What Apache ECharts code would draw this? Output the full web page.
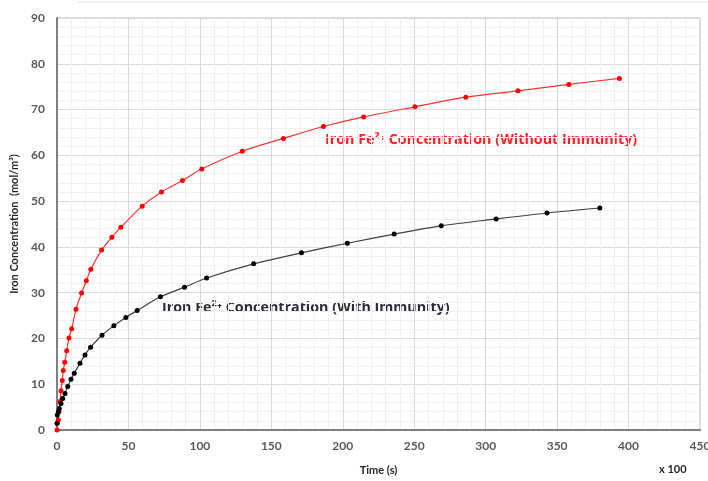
<!DOCTYPE html>
<html>
<head>
<meta charset="utf-8">
<script src="https://cdn.jsdelivr.net/npm/echarts@6/dist/echarts.min.js"></script>
<style>
html,body{margin:0;padding:0;background:#fff;}
#c{width:708px;height:481px;}
</style>
</head>
<body>
<div id="c"></div>
<script>
// Time (x100 s) and concentration (mol/m3)
var timeWithout = [0, 0.2, 0.9, 1.4, 2.1, 2.8, 3.7, 4.4, 5.4, 6.8, 8.4, 10.3, 13.3, 17.2, 20.5, 23.7, 31.2, 38.4, 44.7, 59.6, 73.1, 87.8, 101.3, 129.7, 158.5, 186.5, 214.6, 250.5, 286.1, 322.6, 358.2, 393.6];
var concWithout = [0, 1.5, 2.2, 4.0, 6.2, 8.6, 10.8, 13.0, 14.8, 17.3, 20.1, 22.1, 26.4, 29.9, 32.6, 35.1, 39.3, 42.1, 44.3, 48.9, 52.0, 54.5, 57.0, 60.9, 63.7, 66.3, 68.4, 70.6, 72.7, 74.1, 75.5, 76.8];
var timeWith = [0, 0.2, 0.9, 1.6, 2.8, 4.0, 5.6, 7.5, 9.8, 12.1, 16.1, 19.6, 23.5, 31.5, 39.8, 48.2, 56.1, 72.4, 89.2, 104.7, 137.6, 171.1, 203.2, 236, 268.9, 307.3, 342.9, 379.9];
var concWith = [1.5, 3.3, 4.0, 4.7, 5.8, 6.9, 8.0, 9.5, 11.1, 12.4, 14.6, 16.4, 18.1, 20.7, 22.8, 24.6, 26.1, 29.1, 31.2, 33.2, 36.3, 38.7, 40.8, 42.8, 44.6, 46.1, 47.4, 48.5];
var xTicks = [0, 50, 100, 150, 200, 250, 300, 350, 400, 450];
var yTicks = [0, 10, 20, 30, 40, 50, 60, 70, 80, 90];
var labelWithout = 'Iron Fe²⁺ Concentration (Without Immunity)';
var labelWith = 'Iron Fe²⁺ Concentration (With Immunity)';
var xTitle = 'Time (s)';
var yTitle = 'Iron Concentration  (mol/m³)';
var xScaleNote = 'x 100';

function pairs(t, v) { return t.map(function (x, i) { return [x, v[i]]; }); }

var chart = echarts.init(document.getElementById('c'));
var fontFam = 'Lato';
var labelFam = '"Open Sans"';
var axisLabelStyle = { color: '#595959', fontWeight: 'bold', fontSize: 12, fontFamily: fontFam };

chart.setOption({
  animation: false,
  backgroundColor: '#fff',
  grid: { left: 57, right: 8, top: 18, bottom: 51, show: true, borderColor: '#bfbfbf', borderWidth: 1, containLabel: false, outerBoundsMode: 'none' },
  xAxis: {
    type: 'value', min: xTicks[0], max: xTicks[xTicks.length - 1], interval: 50,
    name: xTitle, nameLocation: 'middle', nameGap: 35,
    nameTextStyle: { color: '#262626', fontWeight: 'bold', fontSize: 11, fontFamily: fontFam },
    axisLine: { show: true, lineStyle: { color: '#7f7f7f', width: 2 } },
    axisTick: { show: false },
    axisLabel: Object.assign({ margin: 10 }, axisLabelStyle),
    splitLine: { show: true, lineStyle: { color: '#d9d9d9', width: 1 } },
    minorTick: { show: false, splitNumber: 5 },
    minorSplitLine: { show: true, lineStyle: { color: '#f0f0f0', width: 1 } }
  },
  yAxis: {
    type: 'value', min: yTicks[0], max: yTicks[yTicks.length - 1], interval: 10,
    name: yTitle, nameLocation: 'middle', nameGap: 32, nameRotate: 90,
    nameTextStyle: { color: '#262626', fontWeight: 'bold', fontSize: 11, fontFamily: fontFam },
    axisLine: { show: true, lineStyle: { color: '#7f7f7f', width: 2 } },
    axisTick: { show: false },
    axisLabel: Object.assign({ margin: 12 }, axisLabelStyle),
    splitLine: { show: true, lineStyle: { color: '#d9d9d9', width: 1 } },
    minorTick: { show: false, splitNumber: 5 },
    minorSplitLine: { show: true, lineStyle: { color: '#f0f0f0', width: 1 } }
  },
  series: [
    {
      name: labelWithout, type: 'line', smooth: 0.3,
      data: pairs(timeWithout, concWithout),
      symbol: 'circle', symbolSize: 5,
      lineStyle: { color: '#ff3030', width: 1.2 },
      itemStyle: { color: '#ff0000' }
    },
    {
      name: labelWith, type: 'line', smooth: 0.3,
      data: pairs(timeWith, concWith),
      symbol: 'circle', symbolSize: 5,
      lineStyle: { color: '#404040', width: 1.2 },
      itemStyle: { color: '#000000' }
    }
  ],
  graphic: [
    { type: 'line', shape: { x1: 78, y1: 2, x2: 708, y2: 2 }, style: { stroke: '#d9d9d9', lineWidth: 1 } },
    { type: 'text', left: 325, top: 133, style: { text: labelWithout, fill: '#ff1f1f', fontSize: 14.3, fontWeight: 'bold', fontFamily: labelFam } },
    { type: 'text', left: 162, top: 301, style: { text: labelWith, fill: '#2b2b3a', fontSize: 14.3, fontWeight: 'bold', fontFamily: labelFam } },
    { type: 'text', left: 659, top: 464, style: { text: xScaleNote, fill: '#262626', fontSize: 11, fontWeight: 'bold', fontFamily: fontFam } }
  ]
});
</script>
</body>
</html>
